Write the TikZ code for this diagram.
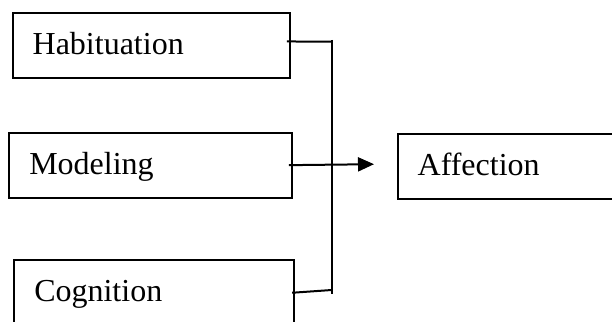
\documentclass[tikz,border=0pt]{standalone}
\usepackage{fontspec}
\setmainfont{Liberation Serif}
\usetikzlibrary{arrows.meta}
\tikzset{
  box/.style={draw, line width=1.9pt, rectangle, anchor=north west,
    minimum height=65pt, inner xsep=20pt, inner ysep=0pt,
    text height=22pt, text depth=4pt, align=left,
    font=\fontsize{32}{38}\selectfont},
  conn/.style={line width=2pt},
  arr/.style={line width=2pt, -{Triangle[length=16pt,width=14pt]}}
}
\begin{document}
\begin{tikzpicture}[x=1pt,y=-1pt]
\useasboundingbox (0,0) rectangle (612,321);
\clip (0,0) rectangle (612,321);
\node[box, text width=237.3pt] (hab) at (11.7,11.7) {Habituation};
\node[box, text width=242.7pt] (mod) at (8.3,131.7) {Modeling};
\node[box, text width=240pt] (cog) at (13.3,259.3) {Cognition};
\node[box, text width=200pt] (aff) at (396.7,133.3) {Affection};
\coordinate (jt) at (331.7,41.7);
\coordinate (jb) at (331.7,290);
\coordinate (vtop) at (331.7,40);
\coordinate (vbot) at (331.7,293.5);
\coordinate (tip) at (374,164.2);
\draw[conn] ([xshift=-4pt,yshift=3.7pt]hab.east) -- (jt);
\draw[conn] (vtop) -- (vbot);
\draw[conn] ([xshift=-3pt]cog.east) -- (jb);
\draw[arr] ([xshift=-4pt]mod.east) -- (tip);
\end{tikzpicture}
\end{document}
